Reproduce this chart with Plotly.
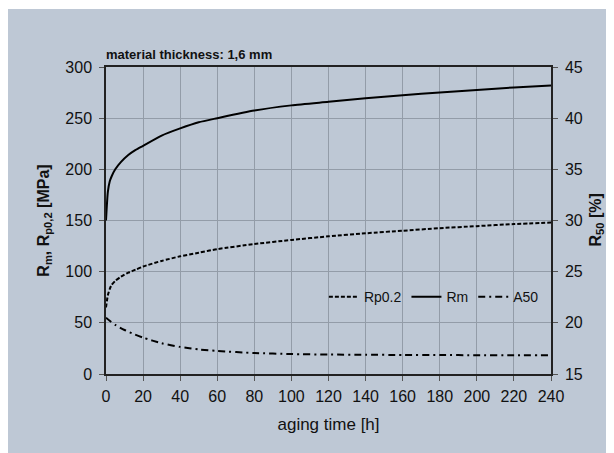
import plotly.graph_objects as go

# Data
t_rm = [0, 1, 2, 3, 5, 8, 12, 16, 20, 30, 40, 50, 60, 80, 100, 120, 140, 160, 180, 200, 220, 240]
rm = [150, 178, 188, 193, 200, 207, 214, 219, 223, 233, 240, 246, 250, 257.5, 262.5, 266, 269.5, 272.5, 275, 277.5, 280, 282]

t_rp = [0, 1, 2, 3, 5, 8, 12, 16, 20, 30, 40, 50, 60, 80, 100, 120, 140, 160, 180, 200, 220, 240]
rp02 = [65, 77, 83, 87, 91, 95, 99, 102, 105, 110.5, 115, 118.5, 122, 127, 131, 134.5, 137.5, 140, 142.5, 144.5, 146.5, 148]

t_a = [0, 2, 5, 10, 15, 20, 30, 40, 50, 60, 80, 100, 120, 140, 160, 180, 200, 220, 240]
a50 = [20.5, 20.2, 19.8, 19.3, 18.9, 18.55, 18.0, 17.65, 17.4, 17.25, 17.05, 16.95, 16.9, 16.88, 16.86, 16.85, 16.84, 16.83, 16.83]

x_ticks = list(range(0, 241, 20))
y_ticks = list(range(0, 301, 50))
y2_ticks = list(range(15, 46, 5))

BG = "#BEC8D5"
GRID = "#939CA8"
FONT = "Liberation Sans, Arial, Helvetica, sans-serif"

# page has an 8px body margin, so figure is 606x445 placed at (8,8)
W, H = 606, 445
L, R, T, B = 98, 63, 59, 79
PW, PH = W - L - R, H - T - B

fig = go.Figure()
fig.add_trace(go.Scatter(x=t_rp, y=rp02, name="Rp0.2", mode="lines",
                         line=dict(color="black", width=2, dash="4px,2px", shape="spline", smoothing=0.6)))
fig.add_trace(go.Scatter(x=t_rm, y=rm, name="Rm", mode="lines",
                         line=dict(color="black", width=2, shape="spline", smoothing=0.6)))
fig.add_trace(go.Scatter(x=t_a, y=a50, name="A50", mode="lines", yaxis="y2",
                         line=dict(color="black", width=2, dash="7px,4px,2px,4px", shape="spline", smoothing=0.6)))

fig.update_layout(
    width=W, height=H,
    margin=dict(l=L, r=R, t=T, b=B, autoexpand=False),
    paper_bgcolor="white",
    plot_bgcolor=BG,
    font=dict(family=FONT, size=16, color="#111"),
    showlegend=True,
    legend=dict(orientation="h", x=0.984, xanchor="right", y=0.25, yanchor="middle",
                bgcolor="rgba(0,0,0,0)", font=dict(size=14), itemwidth=30,
                tracegroupgap=0),
    xaxis=dict(range=[0, 240], tickvals=x_ticks, showgrid=True, gridcolor=GRID, gridwidth=1,
               showline=True, linecolor="#222", linewidth=1.5, mirror=True,
               ticks="outside", ticklen=5, tickcolor="#555", zeroline=False, automargin=False,
               ticklabelstandoff=2,
               title=dict(text="aging time [h]", font=dict(size=17), standoff=14)),
    yaxis=dict(range=[0, 300], tickvals=y_ticks, showgrid=True, gridcolor=GRID, gridwidth=1,
               showline=True, linecolor="#222", linewidth=1.5, automargin=False,
               ticks="outside", ticklen=5, tickcolor="#555", zeroline=False,
               ticklabelstandoff=4,
               title=dict(text="<b>R<sub>m</sub>, R<sub>p0,2</sub> [MPa]</b>", font=dict(size=16), standoff=12)),
    yaxis2=dict(range=[15, 45], tickvals=y2_ticks, overlaying="y", side="right",
                showgrid=False, showline=True, linecolor="#222", linewidth=1.5, automargin=False,
                ticks="outside", ticklen=5, tickcolor="#555", zeroline=False,
                ticklabelstandoff=4),
    shapes=[dict(type="rect", xref="paper", yref="paper",
                 x0=-L / PW, x1=1 + R / PW, y0=-B / PH, y1=1 + (T - 1) / PH,
                 fillcolor=BG, line=dict(width=0), layer="below")],
    annotations=[
        dict(text="<b>material thickness: 1,6 mm</b>", xref="paper", yref="paper",
             x=0, y=1, xanchor="left", yanchor="bottom", showarrow=False,
             font=dict(size=13, color="#111"), xshift=-2, yshift=3),
        dict(text="<b>R<sub>50</sub> [%]</b>", xref="paper", yref="paper",
             x=1, y=0.5, xanchor="center", yanchor="middle", showarrow=False,
             textangle=-90, xshift=45, font=dict(size=16, color="#111")),
    ],
)

fig.write_html("out.html")
